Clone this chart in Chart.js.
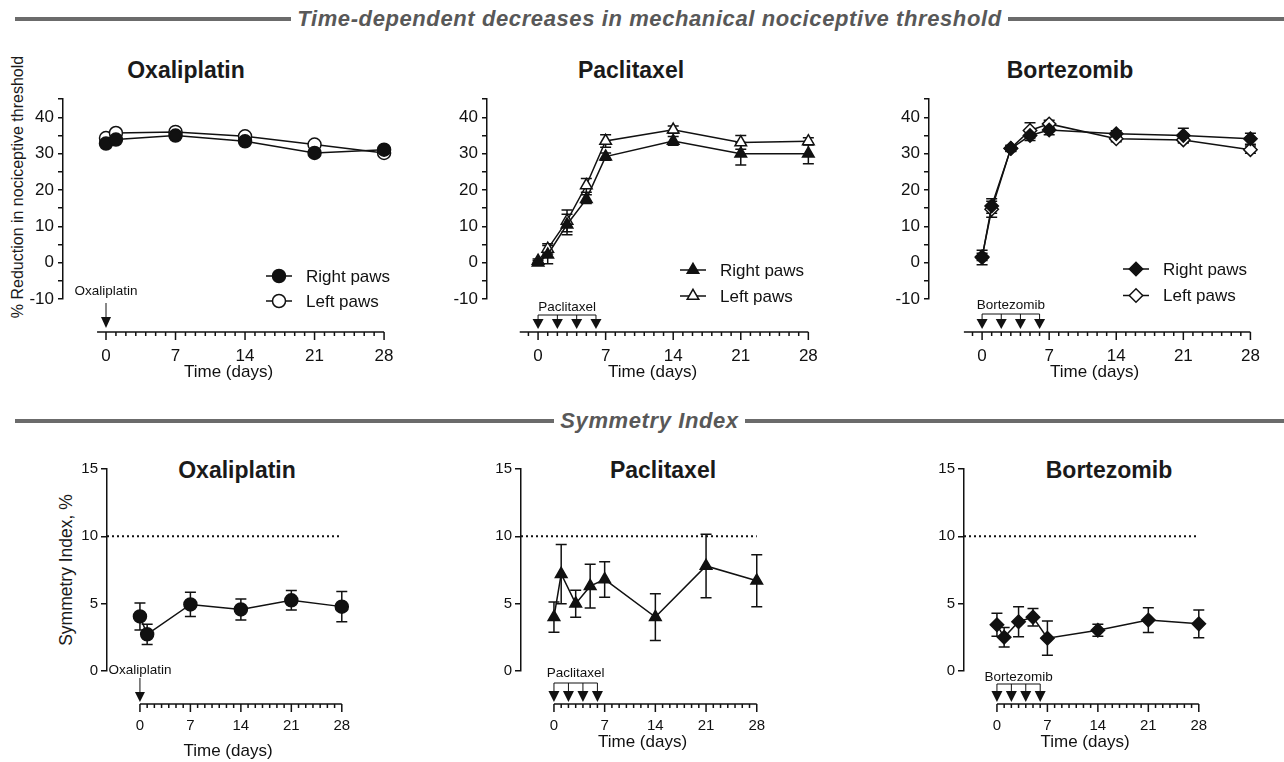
<!DOCTYPE html>
<html>
<head>
<meta charset="utf-8">
<title>Mechanical nociceptive threshold and symmetry index</title>
<script src="https://cdn.jsdelivr.net/npm/chart.js@4.4.1/dist/chart.umd.min.js"></script>
<style>
  html, body { margin: 0; padding: 0; background: #fff; }
  body { position: relative; width: 1284px; height: 762px; overflow: hidden;
         font-family: "Liberation Sans", Arial, Helvetica, sans-serif; color: #1a1a1a; }
  canvas { position: absolute; }
  .section { position: absolute; left: 15px; right: 0; height: 24px; display: flex; align-items: center; }
  .section .rule { flex: 1; height: 4px; background: #6b6b6b; }
  .section span { padding: 0 6px; font-size: 22px; font-weight: bold; font-style: italic;
                  letter-spacing: 0.6px; color: #585858; line-height: 24px; white-space: nowrap; }
  .title { position: absolute; font-size: 23px; font-weight: bold; line-height: 23px;
           transform: translateX(-50%); white-space: nowrap; }
  .ytitle { position: absolute; white-space: nowrap; transform: translate(-50%, -50%) rotate(-90deg); }
</style>
</head>
<body>
<div class="section" style="top:7px"><div class="rule"></div><span>Time-dependent decreases in mechanical nociceptive threshold</span><div class="rule"></div></div>
<div class="section" style="top:409px"><div class="rule"></div><span>Symmetry Index</span><div class="rule"></div></div>

<div class="title" style="left:186px;top:59px">Oxaliplatin</div>
<div class="title" style="left:631px;top:59px">Paclitaxel</div>
<div class="title" style="left:1070px;top:59px">Bortezomib</div>
<div class="title" style="left:237px;top:459px">Oxaliplatin</div>
<div class="title" style="left:663px;top:459px">Paclitaxel</div>
<div class="title" style="left:1109px;top:459px">Bortezomib</div>

<div class="ytitle" style="left:18px;top:187px;font-size:16px">% Reduction in nociceptive threshold</div>
<div class="ytitle" style="left:66px;top:570px;font-size:17.5px">Symmetry Index, %</div>

<script>
// ---- values ----
const xTicks = [0, 7, 14, 21, 28];
const oxaDays = [0, 1, 7, 14, 21, 28];
const cycleDays = [0, 1, 3, 5, 7, 14, 21, 28];

// % reduction in nociceptive threshold (mean, SEM)
const oxaRight = [32.8, 33.9, 35.0, 33.4, 30.2, 31.1];
const oxaRightErr = [0.8, 0.8, 0.8, 0.8, 0.8, 0.9];
const oxaLeft = [34.3, 35.7, 36.0, 34.8, 32.5, 30.2];
const oxaLeftErr = [0.8, 0.8, 0.8, 0.8, 0.8, 0.8];

const pacRight = [0.0, 2.2, 10.5, 17.5, 29.2, 33.5, 30.0, 30.0];
const pacRightErr = [0.5, 2.5, 2.8, 1.2, 1.0, 1.2, 3.1, 2.8];
const pacLeft = [0.5, 3.8, 11.5, 21.3, 33.5, 36.6, 33.1, 33.4];
const pacLeftErr = [0.5, 1.4, 3.0, 1.9, 1.7, 1.0, 1.9, 1.0];

const bzRight = [1.4, 15.6, 31.4, 35.0, 36.5, 35.5, 35.0, 34.1];
const bzRightErr = [2.0, 2.0, 0.8, 1.4, 1.3, 0.8, 2.0, 1.5];
const bzLeft = [1.6, 14.7, 31.5, 36.4, 38.2, 34.1, 33.8, 31.1];
const bzLeftErr = [1.0, 2.2, 0.8, 2.1, 1.0, 0.8, 0.8, 1.0];

// symmetry index, % (mean, SEM)
const siOxa = [4.05, 2.72, 4.94, 4.57, 5.25, 4.78];
const siOxaErr = [1.0, 0.75, 0.9, 0.78, 0.72, 1.12];
const siPac = [4.0, 7.2, 5.0, 6.3, 6.8, 4.0, 7.8, 6.7];
const siPacErr = [1.12, 2.2, 1.0, 1.62, 1.32, 1.74, 2.36, 1.93];
const siBz = [3.43, 2.51, 3.66, 4.0, 2.44, 3.03, 3.78, 3.5];
const siBzErr = [0.85, 0.72, 1.12, 0.65, 1.27, 0.45, 0.92, 1.03];
const siThreshold = 10;

// dosing days
const oxaDoses = [0];
const pacDoses = [0, 2, 4, 6];
const bzDoses = [0, 2, 4, 6];

// ---- layout ----
const INK = '#111';
const FONT = '"Liberation Sans", Arial, Helvetica, sans-serif';
const YW = 60, PT = 12, PR = 16, AXIS_GAP = 33;
const radius = { circle: 6.5, triangle: 6.7, rectRot: 6.7 };
const LW = 1.5;

Chart.defaults.font.family = FONT;
Chart.defaults.color = INK;

const rowStyle = {
  top: { yMin: -10, yMax: 45, every: 10, yFont: 17, tickLen: 5, tickPad: 4, xFont: 17, xDrop: 47, xh: 86 },
  bottom: { yMin: 0, yMax: 15, every: 5, yFont: 15, tickLen: 6, tickPad: 3, xFont: 15, xDrop: 46, xh: 91 }
};

const panels = [
  { row: 'top', drug: 'Oxaliplatin', marker: 'circle', days: oxaDays, doses: oxaDoses,
    series: [['Right paws', oxaRight, oxaRightErr, true], ['Left paws', oxaLeft, oxaLeftErr, false]],
    area: { left: 63, right: 394, top: 97, bottom: 299 }, xMin: -4.33, axisStart: -0.9,
    legend: { x: 279, y: 276, gap: 25 }, dose: { text: 41, stem: 29, triTop: 15, tip: 4, hw: 5 }, titlePad: 2 },
  { row: 'top', drug: 'Paclitaxel', marker: 'triangle', days: cycleDays, doses: pacDoses,
    series: [['Right paws', pacRight, pacRightErr, true], ['Left paws', pacLeft, pacLeftErr, false]],
    area: { left: 487, right: 818, top: 97, bottom: 299 }, xMin: -5.29, axisStart: -1.9,
    legend: { x: 693, y: 270, gap: 26 }, dose: { text: 25, bracket: 17, triTop: 13, tip: 3, hw: 5.5 }, titlePad: 2 },
  { row: 'top', drug: 'Bortezomib', marker: 'rectRot', days: cycleDays, doses: bzDoses,
    series: [['Right paws', bzRight, bzRightErr, true], ['Left paws', bzLeft, bzLeftErr, false]],
    area: { left: 929, right: 1260, top: 97, bottom: 299 }, xMin: -5.54, axisStart: -1.9,
    legend: { x: 1136, y: 269, gap: 26.5 }, dose: { text: 27, bracket: 18, triTop: 13, tip: 3, hw: 5.5 }, titlePad: 2 },
  { row: 'bottom', drug: 'Oxaliplatin', marker: 'circle', days: oxaDays, doses: oxaDoses,
    series: [['Symmetry Index', siOxa, siOxaErr, true]], threshold: true,
    area: { left: 107, right: 349, top: 469, bottom: 671 }, xMin: -4.57, axisStart: 0,
    dose: { text: 34, stem: 26, triTop: 12, tip: 2, hw: 5 }, titlePad: 0 },
  { row: 'bottom', drug: 'Paclitaxel', marker: 'triangle', days: cycleDays, doses: pacDoses,
    series: [['Symmetry Index', siPac, siPacErr, true]], threshold: true,
    area: { left: 521, right: 764, top: 469, bottom: 671 }, xMin: -4.55, axisStart: 0,
    dose: { text: 31, bracket: 21, triTop: 13, tip: 2, hw: 5.5 }, titlePad: 9 },
  { row: 'bottom', drug: 'Bortezomib', marker: 'rectRot', days: cycleDays, doses: bzDoses,
    series: [['Symmetry Index', siBz, siBzErr, true]], threshold: true,
    area: { left: 964, right: 1206, top: 469, bottom: 671 }, xMin: -4.57, axisStart: 0,
    dose: { text: 27, bracket: 20, triTop: 13, tip: 2, hw: 5.5 }, titlePad: 9 }
];

const pts = (days, vals) => days.map((d, i) => ({ x: d, y: vals[i] }));
const panelById = {};

// error bars under the markers, detached x axis, dosing arrows and legend on top
const extras = {
  id: 'extras',
  beforeDatasetsDraw(chart) {
    const { ctx, scales: { x, y } } = chart;
    ctx.save();
    ctx.strokeStyle = INK;
    ctx.lineWidth = LW;
    chart.data.datasets.forEach(ds => {
      if (!ds.errors) return;
      ds.data.forEach((p, i) => {
        const e = ds.errors[i];
        const px = x.getPixelForValue(p.x);
        const hi = y.getPixelForValue(p.y + e);
        const lo = y.getPixelForValue(p.y - e);
        ctx.beginPath();
        ctx.moveTo(px, hi); ctx.lineTo(px, lo);
        ctx.moveTo(px - 5.5, hi); ctx.lineTo(px + 5.5, hi);
        ctx.moveTo(px - 5.5, lo); ctx.lineTo(px + 5.5, lo);
        ctx.stroke();
      });
    });
    ctx.restore();
  },
  afterDraw(chart) {
    const p = panelById[chart.canvas.id];
    const { ctx, chartArea, scales: { x } } = chart;
    const axisY = chartArea.bottom + AXIS_GAP;
    const last = xTicks[xTicks.length - 1];
    ctx.save();

    // detached x axis with day ticks
    ctx.strokeStyle = INK;
    ctx.lineWidth = LW;
    ctx.beginPath();
    ctx.moveTo(x.getPixelForValue(p.axisStart), axisY);
    ctx.lineTo(x.getPixelForValue(last), axisY);
    for (let d = Math.ceil(p.axisStart); d <= last; d++) {
      const px = x.getPixelForValue(d);
      ctx.moveTo(px, axisY);
      ctx.lineTo(px, axisY + (d % 7 === 0 ? 8 : 4));
    }
    ctx.stroke();

    // dosing marks
    const s = p.dose;
    const dx = p.doses.map(d => x.getPixelForValue(d));
    ctx.lineWidth = 1;
    ctx.beginPath();
    if (dx.length > 1) {
      ctx.moveTo(dx[0], axisY - s.bracket);
      ctx.lineTo(dx[dx.length - 1], axisY - s.bracket);
      dx.forEach(px => { ctx.moveTo(px, axisY - s.bracket); ctx.lineTo(px, axisY - s.triTop); });
    } else {
      ctx.moveTo(dx[0], axisY - s.stem);
      ctx.lineTo(dx[0], axisY - s.triTop);
    }
    ctx.stroke();
    ctx.fillStyle = INK;
    dx.forEach(px => {
      ctx.beginPath();
      ctx.moveTo(px - s.hw, axisY - s.triTop);
      ctx.lineTo(px + s.hw, axisY - s.triTop);
      ctx.lineTo(px, axisY - s.tip);
      ctx.closePath();
      ctx.fill();
    });
    ctx.font = '13.5px ' + FONT;
    ctx.textAlign = 'center';
    ctx.textBaseline = 'middle';
    ctx.fillText(p.drug, (dx[0] + dx[dx.length - 1]) / 2, axisY - s.text);

    // legend
    if (p.legend) {
      const L = p.legend;
      chart.data.datasets.filter(ds => !ds.isRef).forEach((ds, i) => {
        const lx = L.x - p.origin.x;
        const ly = L.y + i * L.gap - p.origin.y;
        ctx.strokeStyle = INK;
        ctx.lineWidth = LW;
        ctx.beginPath();
        ctx.moveTo(lx - 13, ly); ctx.lineTo(lx + 13, ly);
        ctx.stroke();
        ctx.fillStyle = ds.pointBackgroundColor;
        Chart.helpers.drawPoint(ctx, { pointStyle: ds.pointStyle, radius: ds.pointRadius, rotation: 0, borderWidth: LW }, lx, ly);
        ctx.fillStyle = INK;
        ctx.font = '17px ' + FONT;
        ctx.textAlign = 'left';
        ctx.fillText(ds.label, lx + 27, ly + 1);
      });
    }
    ctx.restore();
  }
};

panels.forEach((p, n) => {
  const rs = rowStyle[p.row];
  const a = p.area;
  const canvas = document.createElement('canvas');
  canvas.id = 'panel' + n;
  canvas.width = Math.round(a.right - a.left + YW + PR);
  canvas.height = Math.round(a.bottom - a.top + PT + rs.xh);
  p.origin = { x: a.left - YW, y: a.top - PT };
  canvas.style.left = p.origin.x + 'px';
  canvas.style.top = p.origin.y + 'px';
  document.body.appendChild(canvas);
  panelById[canvas.id] = p;

  const datasets = p.series.map(([label, vals, errs, filled], i) => ({
    label: label,
    data: pts(p.days, vals),
    errors: errs,
    order: i,
    borderColor: INK,
    borderWidth: LW,
    pointStyle: p.marker,
    pointRadius: radius[p.marker],
    pointHoverRadius: radius[p.marker],
    pointBackgroundColor: filled ? INK : '#fff',
    pointBorderColor: INK,
    pointBorderWidth: LW,
    tension: 0,
    fill: false,
    clip: false
  }));
  if (p.threshold) {
    datasets.push({
      label: 'threshold',
      isRef: true,
      data: [{ x: p.xMin, y: siThreshold }, { x: xTicks[xTicks.length - 1], y: siThreshold }],
      borderColor: INK,
      borderWidth: 2,
      borderDash: [2, 3],
      pointRadius: 0,
      order: 9
    });
  }

  new Chart(canvas, {
    type: 'line',
    data: { datasets: datasets },
    options: {
      responsive: false,
      animation: false,
      events: [],
      layout: { autoPadding: false, padding: { left: 0, top: PT, right: PR, bottom: 0 } },
      plugins: { legend: { display: false }, tooltip: { enabled: false }, title: { display: false } },
      scales: {
        x: {
          type: 'linear',
          min: p.xMin,
          max: 29,
          // invisible tick marks push the labels below the detached axis
          grid: { display: true, drawOnChartArea: false, drawTicks: true, tickLength: rs.xDrop,
                  color: 'rgba(0,0,0,0)' },
          border: { display: false },
          afterBuildTicks: s => { s.ticks = xTicks.map(v => ({ value: v })); },
          afterFit: s => { s.height = rs.xh; },
          ticks: { autoSkip: false, maxRotation: 0, minRotation: 0, padding: 0,
                   font: { size: rs.xFont }, color: INK },
          title: { display: true, text: 'Time (days)', color: INK, font: { size: 17 },
                   padding: { top: 0, bottom: p.titlePad } }
        },
        y: {
          min: rs.yMin,
          max: rs.yMax,
          afterFit: s => { s.width = YW; },
          grid: { drawOnChartArea: false, drawTicks: true, tickLength: rs.tickLen, color: INK, lineWidth: LW },
          border: { display: true, color: INK, width: LW },
          ticks: { stepSize: 5, autoSkip: false, padding: rs.tickPad, color: INK, font: { size: rs.yFont },
                   callback: v => (v % rs.every === 0 ? v : '') }
        }
      }
    },
    plugins: [extras]
  });
});
</script>
</body>
</html>
